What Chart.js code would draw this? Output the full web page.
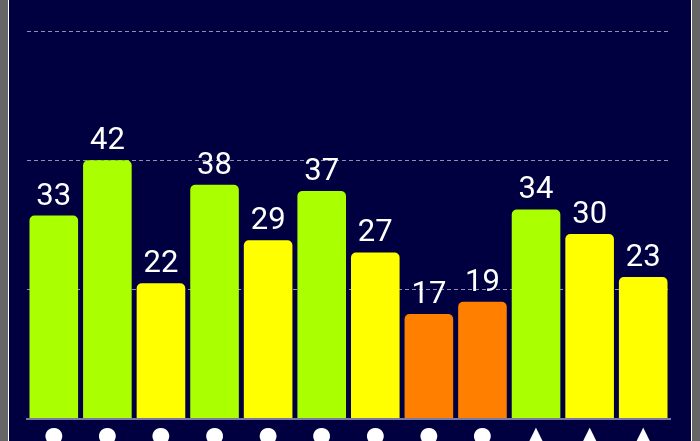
<!DOCTYPE html>
<html>
<head>
<meta charset="utf-8">
<script src="https://cdn.jsdelivr.net/npm/chart.js@4/dist/chart.umd.min.js"></script>
<style>
  html, body { margin: 0; padding: 0; width: 700px; height: 441px; overflow: hidden; background: #666666; }
  .frame {
    position: absolute; left: 8px; top: 0; width: 682px; height: 480px;
    border-left: 1px solid #ffffff; border-right: 1px solid #ffffff;
    background: #000040;
  }
  .frame canvas { display: block; }
</style>
</head>
<body>
<div class="frame">
  <canvas id="chart" width="682" height="480"></canvas>
</div>
<script>
const categories = ["●", "●", "●", "●", "●", "●", "●", "●", "●", "▲", "▲", "▲"];
const values = [33, 42, 22, 38, 29, 37, 27, 17, 19, 34, 30, 23];
const yMax = 63;
const yStep = 21;

function barColor(value) {
  if (value > 30) return "#aaff00";
  if (value >= 20) return "#ffff00";
  return "#ff8000";
}

// draws the number above each bar
const valueLabels = {
  id: "valueLabels",
  afterDatasetsDraw(chart) {
    const ctx = chart.ctx;
    const meta = chart.getDatasetMeta(0);
    ctx.save();
    ctx.fillStyle = "#ffffff";
    ctx.font = "31px Roboto, 'DejaVu Sans', sans-serif";
    ctx.textAlign = "center";
    ctx.textBaseline = "alphabetic";
    meta.data.forEach((bar, i) => {
      ctx.fillText(String(values[i]), bar.x, bar.y - 11);
    });
    ctx.restore();
  }
};

new Chart(document.getElementById("chart"), {
  type: "bar",
  data: {
    labels: categories,
    datasets: [
      {
        data: values,
        backgroundColor: values.map(barColor),
        borderRadius: { topLeft: 5, topRight: 5 },
        borderSkipped: "bottom",
        categoryPercentage: 0.907,
        barPercentage: 1
      }
    ]
  },
  options: {
    responsive: false,
    animation: false,
    layout: { padding: { left: 18, right: 21, top: 31, bottom: 27 } },
    plugins: {
      legend: { display: false },
      tooltip: { enabled: false }
    },
    scales: {
      x: {
        grid: { display: false, drawTicks: false },
        border: { display: true, color: "#7a7aa0", width: 2 },
        ticks: {
          color: "#ffffff",
          padding: 4,
          maxRotation: 0,
          autoSkip: false,
          font: { size: 22, family: "'DejaVu Sans', sans-serif" }
        }
      },
      y: {
        min: 0,
        max: yMax,
        ticks: { display: false, stepSize: yStep },
        border: { display: false, dash: [4, 3] },
        grid: { color: "#9090b0", lineWidth: 1, drawTicks: false }
      }
    }
  },
  plugins: [valueLabels]
});
</script>
</body>
</html>
